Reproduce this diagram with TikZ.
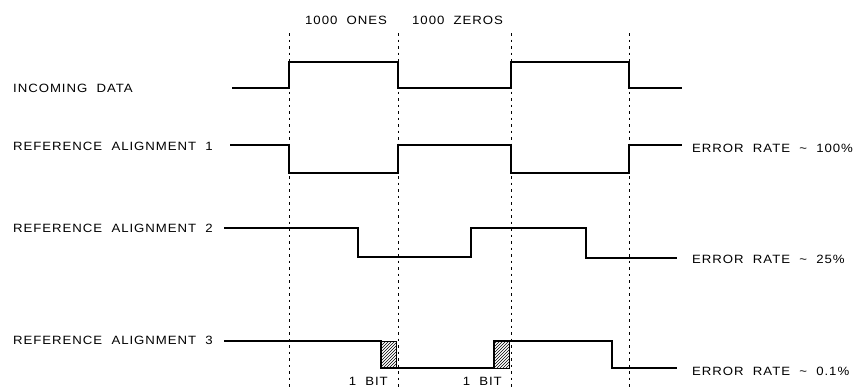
\documentclass[tikz,border=0pt]{standalone}
\usepackage{fontspec}
\setmainfont{Liberation Sans}[FakeStretch=1.1,LetterSpace=8,WordSpace=2]
\usetikzlibrary{patterns}
\begin{document}
\begin{tikzpicture}[x=1pt,y=-1pt,
  lbl/.style={anchor=west,inner sep=0pt,font=\fontsize{12}{13}\selectfont},
  lble/.style={anchor=east,inner sep=0pt,font=\fontsize{12}{13}\selectfont},
  trace/.style={line width=1.2pt,line join=miter},
  guide/.style={line width=0.9pt,dash pattern=on 2.5pt off 4pt},
  bitbox/.style={draw,line width=0.8pt,pattern=north east lines}]
\useasboundingbox (0,0) rectangle (867,388);
% guides
\foreach \gx/\nm in {289/g1,398/g2,511/g3,629/g4}{
  \coordinate (\nm t) at (\gx,33);
  \coordinate (\nm b) at (\gx,390);
  \draw[guide] (\nm t) -- (\nm b);
}
% labels
\node[lbl] (ones) at (305,20) {1000 ONES};
\node[lbl] (zeros) at (412,20) {1000 ZEROS};
\node[lbl] (inc) at (13,88) {INCOMING DATA};
\node[lbl] (ra1) at (13,146) {REFERENCE ALIGNMENT 1};
\node[lbl] (ra2) at (13,228) {REFERENCE ALIGNMENT 2};
\node[lbl] (ra3) at (13,340) {REFERENCE ALIGNMENT 3};
\node[lbl] (er1) at (692,148) {ERROR RATE \char`\~{} 100\%};
\node[lbl] (er2) at (692,259) {ERROR RATE \char`\~{} 25\%};
\node[lbl] (er3) at (692,371) {ERROR RATE \char`\~{} 0.1\%};
\node[lble] (b1) at (388,381) {1 BIT};
\node[lble] (b2) at (502,381) {1 BIT};
% hatched bits
\draw[bitbox] (381,341) rectangle (396,368);
\draw[bitbox] (494,341) rectangle (509,368);
% traces
\draw[trace] (232,88) -- (289,88) -- (289,62) -- (398,62) -- (398,88) -- (511,88) -- (511,62) -- (629,62) -- (629,88) -- (682,88);
\draw[trace] (230,145) -- (289,145) -- (289,173) -- (398,173) -- (398,145) -- (511,145) -- (511,173) -- (629,173) -- (629,145) -- (682,145);
\draw[trace] (224,228) -- (358,228) -- (358,257) -- (471,257) -- (471,228) -- (586,228) -- (586,258) -- (677,258);
\draw[trace] (224,341) -- (381,341) -- (381,368) -- (494,368) -- (494,341) -- (612,341) -- (612,368) -- (677,368);
\end{tikzpicture}
\end{document}
